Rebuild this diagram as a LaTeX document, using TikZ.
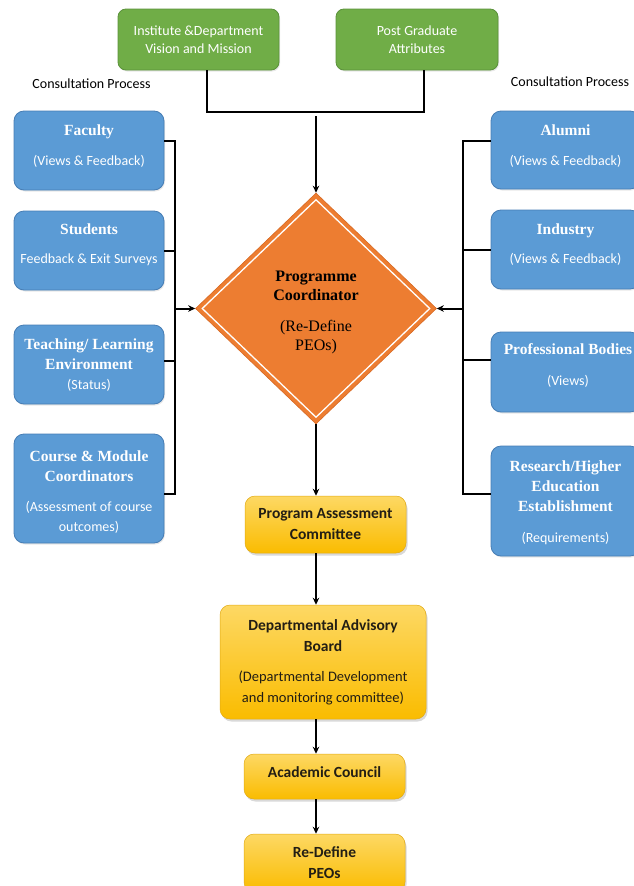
\documentclass[tikz,border=0pt]{standalone}
\usepackage{fontspec}
\setmainfont{Carlito}
\newfontfamily\myserif{Liberation Serif}
\usetikzlibrary{shapes.geometric,arrows.meta,shadows,calc}
\definecolor{gF}{RGB}{112,173,71}
\definecolor{gD}{RGB}{90,145,58}
\definecolor{bF}{RGB}{91,155,213}
\definecolor{bD}{RGB}{70,125,180}
\definecolor{oF}{RGB}{237,125,49}
\definecolor{oD}{RGB}{215,105,35}
\definecolor{yT}{RGB}{253,216,100}
\definecolor{yB}{RGB}{250,188,0}
\definecolor{yD}{RGB}{225,170,20}
\definecolor{yText}{RGB}{35,30,20}
\newcommand\tfont{\myserif\bfseries\fontsize{15.5}{20}\selectfont}
\begin{document}
\begin{tikzpicture}[x=1pt,y=-1pt,
  conn/.style={line width=2pt, black},
  arr/.style={conn, -{Stealth[length=7pt,width=6.5pt]}},
  greenbox/.style={rounded corners=8pt, fill=gF, draw=gD, line width=0.8pt, text=white, align=center, font=\fontsize{14}{18}\selectfont, inner sep=0pt, drop shadow={opacity=0.18, shadow xshift=1pt, shadow yshift=-1.5pt}},
  bluebox/.style={rounded corners=10pt, fill=bF, draw=bD, line width=0.8pt, inner sep=0pt, minimum width=150pt, drop shadow={opacity=0.18, shadow xshift=1pt, shadow yshift=-1.5pt}},
  rbluebox/.style={bluebox, minimum width=149pt},
  bluetext/.style={text=white, align=center, font=\fontsize{14}{20}\selectfont, inner sep=0pt},
  yellowbox/.style={rounded corners=10pt, top color=yT, bottom color=yB, draw=yD, line width=0.5pt, text=yText, align=center, font=\bfseries\fontsize{15.5}{21}\selectfont, inner sep=0pt, drop shadow={opacity=0.3, shadow xshift=1.5pt, shadow yshift=-2.5pt}},
  cplabel/.style={font=\fontsize{14}{18}\selectfont, text=black, inner sep=0pt}
]
\useasboundingbox (0,0) rectangle (633,886);

% top green boxes
\node[greenbox, minimum width=161pt, minimum height=61pt] (g1) at (198.5,39.5) {Institute \&Department\\Vision and Mission};
\node[greenbox, minimum width=162pt, minimum height=61pt] (g2) at (417,39.5) {Post Graduate\\Attributes};

\node[cplabel] (cpl) at (91.5,84) {Consultation Process};
\node[cplabel] (cpr) at (570,82) {Consultation Process};

% diamond
\node[diamond, fill=oF, draw=oD, line width=0.6pt, minimum width=241pt, minimum height=231pt, inner sep=0pt] (pc) at (316,308.5) {};
\node[diamond, draw=white, line width=1.3pt, minimum width=228pt, minimum height=218pt, inner sep=0pt] (pcin) at (316,308.5) {};
\node[align=center, inner sep=0pt, text=black, font=\myserif\fontsize{16}{19}\selectfont] (pct) at (316,312)
  {\textbf{Programme}\\\textbf{Coordinator}\\[12pt](Re-Define\\PEOs)};

% left blue boxes
\node[bluebox, minimum height=79pt] (fac) at (89,150.5) {};
\node[bluetext] (facT) at (89,146) {{\tfont Faculty}\\[10pt](Views \& Feedback)};
\node[bluebox, minimum height=79pt] (stu) at (89,250.5) {};
\node[bluetext] (stuT) at (89,245) {{\tfont Students}\\[9pt]Feedback \& Exit Surveys};
\node[bluebox, minimum height=79pt] (tea) at (89,364.5) {};
\node[bluetext] (teaT) at (89,365) {{\tfont Teaching/ Learning}\\{\tfont Environment}\\(Status)};
\node[bluebox, minimum height=109pt] (cou) at (89,488.5) {};
\node[bluetext] (couT) at (89,492.5) {{\tfont Course \& Module}\\{\tfont Coordinators}\\[10pt](Assessment of course\\outcomes)};

% right blue boxes
\node[rbluebox, minimum height=78pt] (alu) at (565.5,150) {};
\node[bluetext] (aluT) at (565.5,146.5) {{\tfont Alumni}\\[10pt](Views \& Feedback)};
\node[rbluebox, minimum height=79pt] (ind) at (565.5,249.5) {};
\node[bluetext] (indT) at (565.5,245) {{\tfont Industry}\\[9pt](Views \& Feedback)};
\node[rbluebox, minimum height=80pt] (pro) at (565.5,372) {};
\node[bluetext] (proT) at (568,366) {{\tfont Professional Bodies}\\[11pt](Views)};
\node[rbluebox, minimum height=110pt] (res) at (565.5,501) {};
\node[bluetext] (resT) at (565.5,503) {{\tfont Research/Higher}\\{\tfont Education}\\{\tfont Establishment}\\[11pt](Requirements)};

% yellow boxes
\node[yellowbox, minimum width=161pt, minimum height=57pt] (pac) at (325.5,524.5) {Program Assessment\\Committee};
\node[yellowbox, minimum width=206pt, minimum height=114pt] (dab) at (323,662) {Departmental Advisory\\Board\\[9pt]{\mdseries\fontsize{14.5}{19}\selectfont (Departmental Development}\\{\mdseries\fontsize{14.5}{19}\selectfont and monitoring committee)}};
\node[yellowbox, minimum width=161pt, minimum height=45pt, text depth=9pt] (ac) at (324.5,776.5) {Academic Council};
\node[yellowbox, minimum width=161pt, minimum height=58pt] (rd) at (324.5,863) {Re-Define\\PEOs};

% connectors: top
\coordinate (tj) at (316,116);
\draw[conn] ($(g1.south)+(8.5,0)$) |- ($(g2.south)+(7,42)$) -- ($(g2.south)+(7,0)$);
\draw[arr] (tj) -- (pc.north);

% left bus
\coordinate (lt) at (175,141);
\coordinate (lb) at (175,494);
\coordinate (la) at (175,308.5);
\draw[conn] (fac.east |- lt) -- (lt) -- (lb) -- (cou.east |- lb);
\draw[conn] (stu.east) -- (stu.east -| lt);
\draw[conn] ($(tea.east)+(0,-4)$) -- ($(tea.east -| lt)+(0,-4)$);
\draw[arr] (la) -- (pc.west);

% right bus
\coordinate (rt) at (463,141);
\coordinate (rb) at (463,494);
\coordinate (ra) at (463,308.5);
\draw[conn] (alu.west |- rt) -- (rt) -- (rb) -- (res.west |- rb);
\draw[conn] (ind.west |- 0,250) -- (463,250);
\draw[conn] (pro.west |- 0,360) -- (463,360);
\draw[arr] (ra) -- (pc.east);

% vertical chain
\draw[arr] (pc.south) -- (pc.south |- pac.north);
\draw[arr] (pac.south -| pc.south) -- (dab.north -| pc.south);
\draw[arr] (dab.south -| pc.south) -- (ac.north -| pc.south);
\draw[arr] (ac.south -| pc.south) -- (rd.north -| pc.south);
\end{tikzpicture}
\end{document}
